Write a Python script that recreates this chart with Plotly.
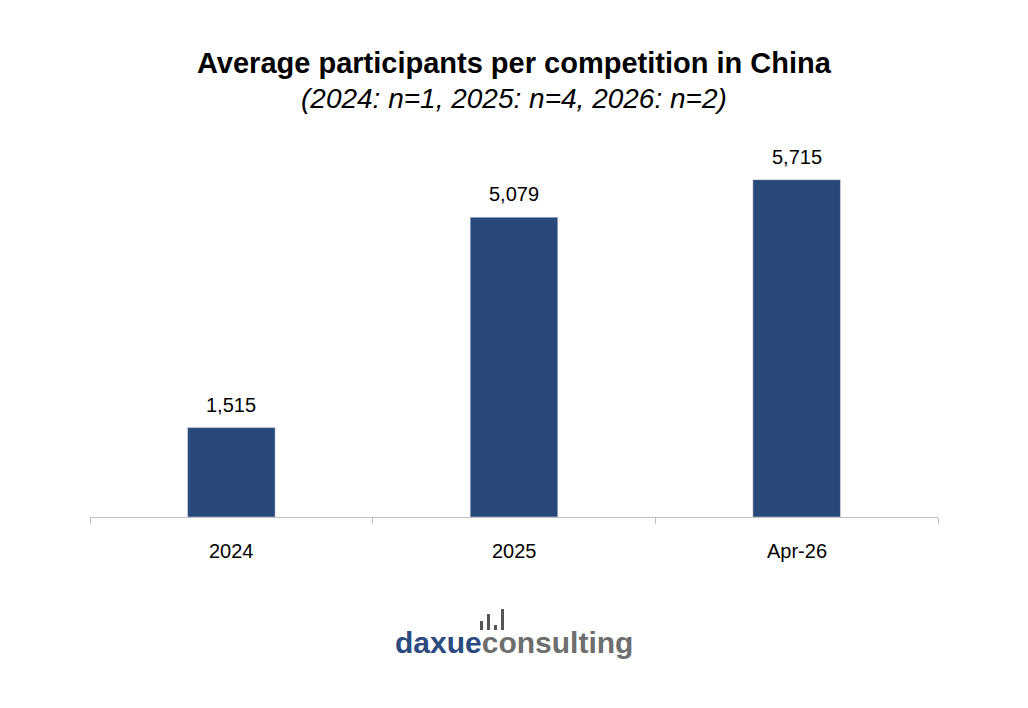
import plotly.graph_objects as go

# data
categories = ["2024", "2025", "Apr-26"]
participants = [1515, 5079, 5715]
labels = ["1,515", "5,079", "5,715"]

bar_color = "#29487A"
L, R, T, B = 82, 98, 133, 199
PW, PH = 1028 - L - R, 708 - T - B


def py(pix):
    return 1 - (pix - T) / PH


def px(pix):
    return (pix - L) / PW


fig = go.Figure()
fig.add_trace(go.Bar(
    x=list(range(len(categories))), y=participants,
    marker_color=bar_color, width=0.31,
))

ann = [
    dict(text="<b>Average participants per competition in China</b>",
         x=0.5, y=py(55), xref="paper", yref="paper", showarrow=False,
         yanchor="middle", font=dict(size=29)),
    dict(text="<i>(2024: n=1, 2025: n=4, 2026: n=2)</i>",
         x=0.5, y=py(90), xref="paper", yref="paper", showarrow=False,
         yanchor="middle", font=dict(size=28)),
    dict(text="<b><span style='color:#2B4A7D'>daxue</span><span style='color:#6E6E6E'>consulting</span></b>",
         x=px(506), y=py(634), xref="paper", yref="paper", showarrow=False,
         yanchor="middle", font=dict(size=30)),
]
for i, (c, v, t) in enumerate(zip(categories, participants, labels)):
    ann.append(dict(text=t, x=i, y=v, yanchor="bottom", showarrow=False,
                    yshift=10, font=dict(size=20)))
    ann.append(dict(text=c, x=i, y=py(543), yref="paper", yanchor="middle",
                    showarrow=False, font=dict(size=20)))

fig.update_layout(
    width=1028, height=708,
    paper_bgcolor="white", plot_bgcolor="white",
    font=dict(family="Liberation Sans, Arial", color="black"),
    margin=dict(l=L, r=R, t=T, b=B),
    showlegend=False,
    annotations=ann,
)

# small bar icon above the logo
icon = [(472, 613), (479, 606), (486, 617), (493, 601)]
for x0, yt in icon:
    fig.add_shape(type="rect", xref="paper", yref="paper",
                  x0=px(x0), x1=px(x0 + 3), y0=py(622), y1=py(yt),
                  fillcolor="#555555", line_width=0)

fig.update_xaxes(range=[-0.5, 2.5], showline=True, linecolor="#BFBFBF",
                 linewidth=1, ticks="outside", tickcolor="#BFBFBF", ticklen=6,
                 tickvals=[-0.5, 0.5, 1.5, 2.5], showticklabels=False,
                 showgrid=False, zeroline=False)
fig.update_yaxes(visible=False, range=[0, 6370])

fig.write_html("out.html")
